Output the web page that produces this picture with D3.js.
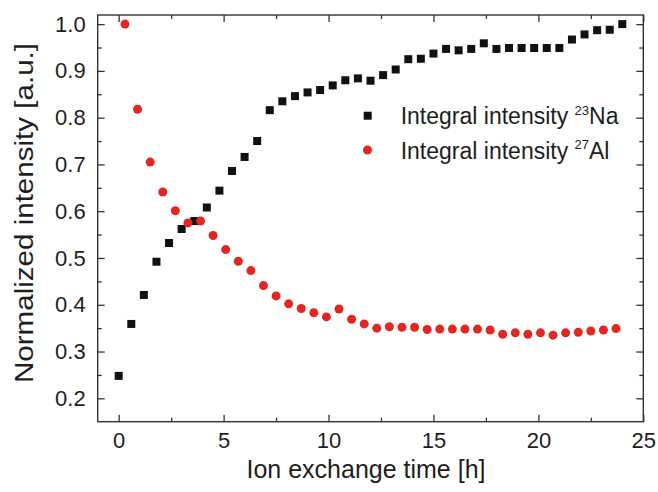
<!DOCTYPE html>
<html>
<head>
<meta charset="utf-8">
<script src="https://cdn.jsdelivr.net/npm/d3@7/dist/d3.min.js"></script>
<style>
  html, body { margin: 0; padding: 0; background: #fff; }
  svg { display: block; }
  text { font-family: "Liberation Sans", Arial, sans-serif; fill: #1e1e1e; }
</style>
</head>
<body>
<svg id="chart" width="658" height="492"></svg>
<script>
// Ion-exchange kinetics: 23Na and 27Al integral intensities (normalized)
const timeNa = [0, 0.6, 1.2, 1.8, 2.4, 3.0, 3.6, 4.2, 4.8, 5.4, 6.0, 6.6, 7.2, 7.8, 8.4, 9.0,
  9.6, 10.2, 10.8, 11.4, 12.0, 12.6, 13.2, 13.8, 14.4, 15.0, 15.6, 16.2, 16.8, 17.4, 18.0,
  18.6, 19.2, 19.8, 20.4, 21.0, 21.6, 22.2, 22.8, 23.4, 24.0];
const valueNa = [0.248, 0.359, 0.421, 0.492, 0.532, 0.562, 0.579, 0.608, 0.644, 0.686, 0.716,
  0.750, 0.816, 0.835, 0.846, 0.854, 0.859, 0.869, 0.880, 0.884, 0.879, 0.891, 0.903, 0.925,
  0.926, 0.937, 0.947, 0.944, 0.947, 0.959, 0.947, 0.949, 0.949, 0.949, 0.949, 0.949, 0.967,
  0.978, 0.987, 0.988, 1.0];

const timeAl = [0.3, 0.9, 1.5, 2.1, 2.7, 3.3, 3.9, 4.5, 5.1, 5.7, 6.3, 6.9, 7.5, 8.1, 8.7, 9.3,
  9.9, 10.5, 11.1, 11.7, 12.3, 12.9, 13.5, 14.1, 14.7, 15.3, 15.9, 16.5, 17.1, 17.7, 18.3,
  18.9, 19.5, 20.1, 20.7, 21.3, 21.9, 22.5, 23.1, 23.7];
const valueAl = [1.0, 0.818, 0.705, 0.641, 0.601, 0.575, 0.579, 0.548, 0.518, 0.493, 0.473,
  0.441, 0.419, 0.402, 0.392, 0.383, 0.374, 0.391, 0.369, 0.359, 0.350, 0.353, 0.352, 0.352,
  0.347, 0.348, 0.348, 0.348, 0.348, 0.346, 0.337, 0.340, 0.337, 0.340, 0.335, 0.340, 0.341,
  0.344, 0.346, 0.349];

const xTicks = [0, 5, 10, 15, 20, 25];
const xMinorTicks = [2.5, 7.5, 12.5, 17.5, 22.5];
const yTicks = [0.2, 0.3, 0.4, 0.5, 0.6, 0.7, 0.8, 0.9, 1.0];
const yMinorTicks = [0.25, 0.35, 0.45, 0.55, 0.65, 0.75, 0.85, 0.95];

const seriesNames = ["Integral intensity ", "Integral intensity "];
const isotopeMass = ["23", "27"];
const isotopeSymbol = ["Na", "Al"];

const svg = d3.select("#chart");
const plotLeft = 97.7, plotRight = 643.3, plotTop = 15, plotBottom = 421.7;

const x = d3.scaleLinear().domain([-1, 25]).range([plotLeft, plotRight]);
const y = d3.scaleLinear().domain([0.15, 1.0195]).range([plotBottom, plotTop]);

const axisColor = "#333";
const tickFont = 22;

// Bottom axis (labelled) and top axis (mirrored), ticks pointing inward
const gBottom = svg.append("g").attr("transform", `translate(0,${plotBottom})`)
  .call(d3.axisBottom(x).tickValues(xTicks).tickSize(-7).tickPadding(11).tickFormat(d3.format("d")));
const gBottomMinor = svg.append("g").attr("transform", `translate(0,${plotBottom})`)
  .call(d3.axisBottom(x).tickValues(xMinorTicks).tickSize(-4).tickFormat(""));
const gTop = svg.append("g").attr("transform", `translate(0,${plotTop})`)
  .call(d3.axisTop(x).tickValues(xTicks).tickSize(-7).tickFormat(""));
const gTopMinor = svg.append("g").attr("transform", `translate(0,${plotTop})`)
  .call(d3.axisTop(x).tickValues(xMinorTicks).tickSize(-4).tickFormat(""));

// Left axis (labelled) and right axis (mirrored)
const gLeft = svg.append("g").attr("transform", `translate(${plotLeft},0)`)
  .call(d3.axisLeft(y).tickValues(yTicks).tickSize(-7).tickPadding(12).tickFormat(d3.format(".1f")));
const gLeftMinor = svg.append("g").attr("transform", `translate(${plotLeft},0)`)
  .call(d3.axisLeft(y).tickValues(yMinorTicks).tickSize(-4).tickFormat(""));
const gRight = svg.append("g").attr("transform", `translate(${plotRight},0)`)
  .call(d3.axisRight(y).tickValues(yTicks).tickSize(-7).tickFormat(""));
const gRightMinor = svg.append("g").attr("transform", `translate(${plotRight},0)`)
  .call(d3.axisRight(y).tickValues(yMinorTicks).tickSize(-4).tickFormat(""));

[gBottom, gBottomMinor, gTop, gTopMinor, gLeft, gLeftMinor, gRight, gRightMinor].forEach(g => {
  g.select(".domain").remove();
  g.selectAll(".tick line").attr("stroke", axisColor).attr("stroke-width", 1.3);
  g.selectAll(".tick text")
    .attr("font-family", "Liberation Sans, Arial, sans-serif")
    .attr("font-size", tickFont)
    .attr("fill", "#1e1e1e");
});

// Plot frame
svg.append("rect")
  .attr("x", plotLeft).attr("y", plotTop)
  .attr("width", plotRight - plotLeft).attr("height", plotBottom - plotTop)
  .attr("fill", "none").attr("stroke", axisColor).attr("stroke-width", 1.4);

// Axis titles
svg.append("text")
  .attr("x", 366).attr("y", 478)
  .attr("text-anchor", "middle").attr("font-size", 25)
  .text("Ion exchange time [h]");
svg.append("text")
  .attr("transform", "translate(33,213) rotate(-90)")
  .attr("text-anchor", "middle").attr("font-size", 25)
  .attr("textLength", 340).attr("lengthAdjust", "spacingAndGlyphs")
  .text("Normalized intensity [a.u.]");

// Markers
const naColor = "#111111", alColor = "#e3261f";
const sq = 8;
svg.append("g").selectAll("rect")
  .data(d3.zip(timeNa, valueNa))
  .join("rect")
  .attr("x", d => x(d[0]) - sq / 2).attr("y", d => y(d[1]) - sq / 2)
  .attr("width", sq).attr("height", sq)
  .attr("fill", naColor);

svg.append("g").selectAll("circle")
  .data(d3.zip(timeAl, valueAl))
  .join("circle")
  .attr("cx", d => x(d[0])).attr("cy", d => y(d[1]))
  .attr("r", 4.5)
  .attr("fill", alColor);

// Legend
const legend = svg.append("g");
const rowY = [115.7, 150];
legend.append("rect")
  .attr("x", 367.7 - sq / 2).attr("y", rowY[0] - sq / 2)
  .attr("width", sq).attr("height", sq).attr("fill", naColor);
legend.append("circle")
  .attr("cx", 367.5).attr("cy", rowY[1]).attr("r", 4.5).attr("fill", alColor);

seriesNames.forEach((name, i) => {
  const t = legend.append("text")
    .attr("x", 400.7).attr("y", rowY[i] + 8.5)
    .attr("font-size", 23);
  t.append("tspan").text(name);
  t.append("tspan").attr("font-size", 13).attr("dy", -9.5).text(isotopeMass[i]);
  t.append("tspan").attr("dy", 9.5).text(isotopeSymbol[i]);
});
</script>
</body>
</html>
